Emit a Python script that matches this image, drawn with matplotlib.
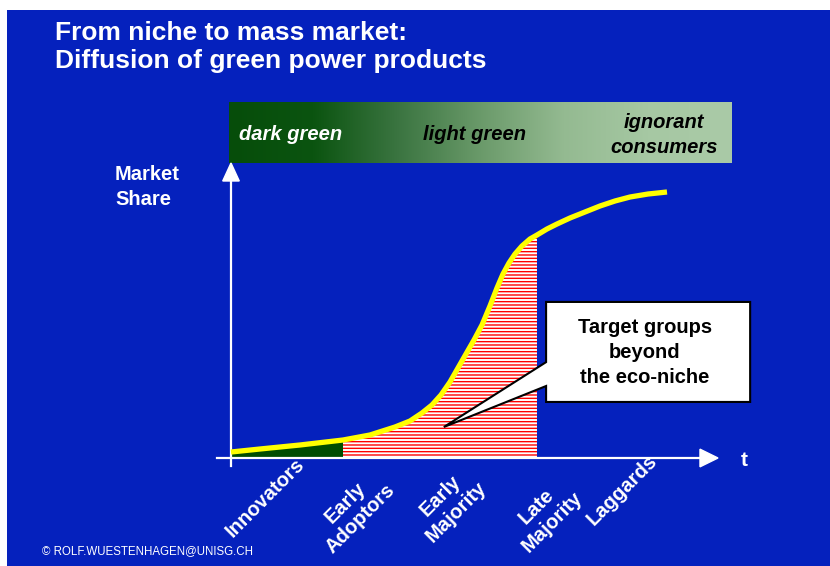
import numpy as np
import matplotlib
matplotlib.use("Agg")
import matplotlib.pyplot as plt
from matplotlib.patches import Rectangle, Polygon
from matplotlib.colors import LinearSegmentedColormap

plt.rcParams['font.family'] = ['Liberation Sans', 'DejaVu Sans']
plt.rcParams['hatch.linewidth'] = 1.0

# diffusion curve (t in % of axis length, share in % of axis height)
t_vals = [0.0, 5.95, 14.17, 23.0, 28.54, 33.68, 36.76, 39.22, 41.27, 43.12, 44.97, 46.61,
          48.25, 49.90, 51.54, 53.18, 54.62, 55.85, 57.08, 58.32, 59.75, 61.40, 62.83,
          64.89, 66.94, 69.61, 72.69, 75.77, 78.85, 81.93, 85.63, 89.53]
share_vals = [2.03, 3.05, 4.41, 6.10, 7.80, 10.51, 12.54, 15.25, 17.97, 21.36, 25.76, 30.51,
              35.25, 40.00, 45.08, 51.53, 57.63, 62.37, 66.10, 69.15, 71.86, 74.24, 75.59,
              77.63, 79.32, 81.36, 83.39, 85.42, 87.12, 88.47, 89.49, 90.17]

innovators_end = 23.0
target_end = 62.9

groups = ["Innovators", "Early\nAdoptors", "Early\nMajority", "Late\nMajority", "Laggards"]
group_t = [7.0, 25.0, 44.6, 64.3, 80.3]
group_s = [-13.6, -18.0, -15.6, -19.0, -10.8]

segments = ["dark green", "light green", "ignorant\nconsumers"]

blue = '#0521BD'
W, H = 830, 566

fig = plt.figure(figsize=(W / 100, H / 100), dpi=100, facecolor='white')
fig.patches.append(Rectangle((7 / W, 0), 1, 1 - 10 / H, transform=fig.transFigure,
                             facecolor=blue, edgecolor='none', zorder=-10))

# axes placed so the origin sits where the drawn axes cross
ax = fig.add_axes([231 / W, 1 - 458 / H, 487 / W, 295 / H])
ax.set_xlim(0, 100)
ax.set_ylim(0, 100)
ax.axis('off')
ax.patch.set_alpha(0)

t = np.array(t_vals)
s = np.array(share_vals)

# shaded areas under the curve
ax.fill_between(t, 0, s, where=t <= innovators_end, color='#004d00', linewidth=0, zorder=2)
ax.fill_between(t, 0, s, where=(t >= innovators_end) & (t <= target_end),
                facecolor='white', edgecolor='red', hatch='-----', linewidth=0, zorder=2)

ax.plot(t, s, color='#ffff00', lw=3.8, solid_capstyle='butt', solid_joinstyle='round',
        zorder=4, clip_on=False)

# axes with arrows
ax.plot([-2.9, 96.5], [0, 0], color='white', lw=1.6, zorder=3, clip_on=False)
ax.plot([0, 0], [-2.7, 94], color='white', lw=1.6, zorder=3, clip_on=False)
ax.add_patch(Polygon([[96.3, -3.0], [100, 0], [96.3, 3.0]], closed=True, color='white',
                     clip_on=False, zorder=5))
ax.add_patch(Polygon([[-1.7, 93.9], [0, 100], [1.7, 93.9]], closed=True, color='white',
                     clip_on=False, zorder=5))
ax.text(105.3, -0.7, "t", color='white', fontsize=15, fontweight='bold',
        ha='center', va='center', clip_on=False)
ax.text(-23.8, 92.0, "Market\nShare", color='white', fontsize=14.5, fontweight='bold',
        ha='left', va='center', linespacing=1.4)

# consumer segments band
cmap = LinearSegmentedColormap.from_list('band', ['#064d0a', '#0b5410', '#3a7440', '#6a9a6a',
                                                  '#94ba91', '#a6c8a3', '#aacaa7'])
grad = np.linspace(0, 1, 256).reshape(1, -1)
im = ax.imshow(grad, cmap=cmap, extent=[-0.4, 102.7, 100, 120.6], aspect='auto', zorder=1)
im.set_clip_on(False)
ax.set_xlim(0, 100)
ax.set_ylim(0, 100)
ax.text(1.6, 109.7, segments[0], color='white', fontsize=14.5, fontweight='bold',
        style='italic', ha='left', va='center', clip_on=False)
ax.text(50.1, 109.5, segments[1], color='black', fontsize=14.5, fontweight='bold',
        style='italic', ha='center', va='center', clip_on=False)
ax.text(88.9, 109.5, segments[2], color='black', fontsize=14.5, fontweight='bold',
        style='italic', ha='center', va='center', clip_on=False, linespacing=1.4)

# adopter categories along the time axis
for name, gx, gy in zip(groups, group_t, group_s):
    ax.text(gx, gy, name, color='white', fontsize=14.5, fontweight='bold', rotation=45,
            rotation_mode='anchor', ha='center', va='center', multialignment='center',
            clip_on=False)

# callout box with pointer
bx0, bx1, by0, by1 = 64.7, 106.6, 19.0, 52.9
tip = (43.7, 10.5)
callout = Polygon([[bx0, by1], [bx1, by1], [bx1, by0], [bx0, by0], [bx0, 24.4], tip,
                   [bx0, 32.5]], closed=True, facecolor='white', edgecolor='black',
                  lw=1.5, clip_on=False, zorder=6)
ax.add_patch(callout)
ax.text(85.0, 35.6, "Target groups\nbeyond\nthe eco-niche", color='black', fontsize=14.5,
        fontweight='bold', ha='center', va='center', multialignment='center', zorder=7,
        clip_on=False, linespacing=1.4)

# title and credit
fig.text(55 / W, 1 - 21 / H, "From niche to mass market:\nDiffusion of green power products",
         color='white', fontsize=19, fontweight='bold', ha='left', va='top', linespacing=1.2)
fig.text(42 / W, 1 - 551 / H, "© ROLF.WUESTENHAGEN@UNISG.CH", color='white', fontsize=8.3,
         ha='left', va='center')

fig.savefig('out.png', dpi=100, facecolor=fig.get_facecolor())
